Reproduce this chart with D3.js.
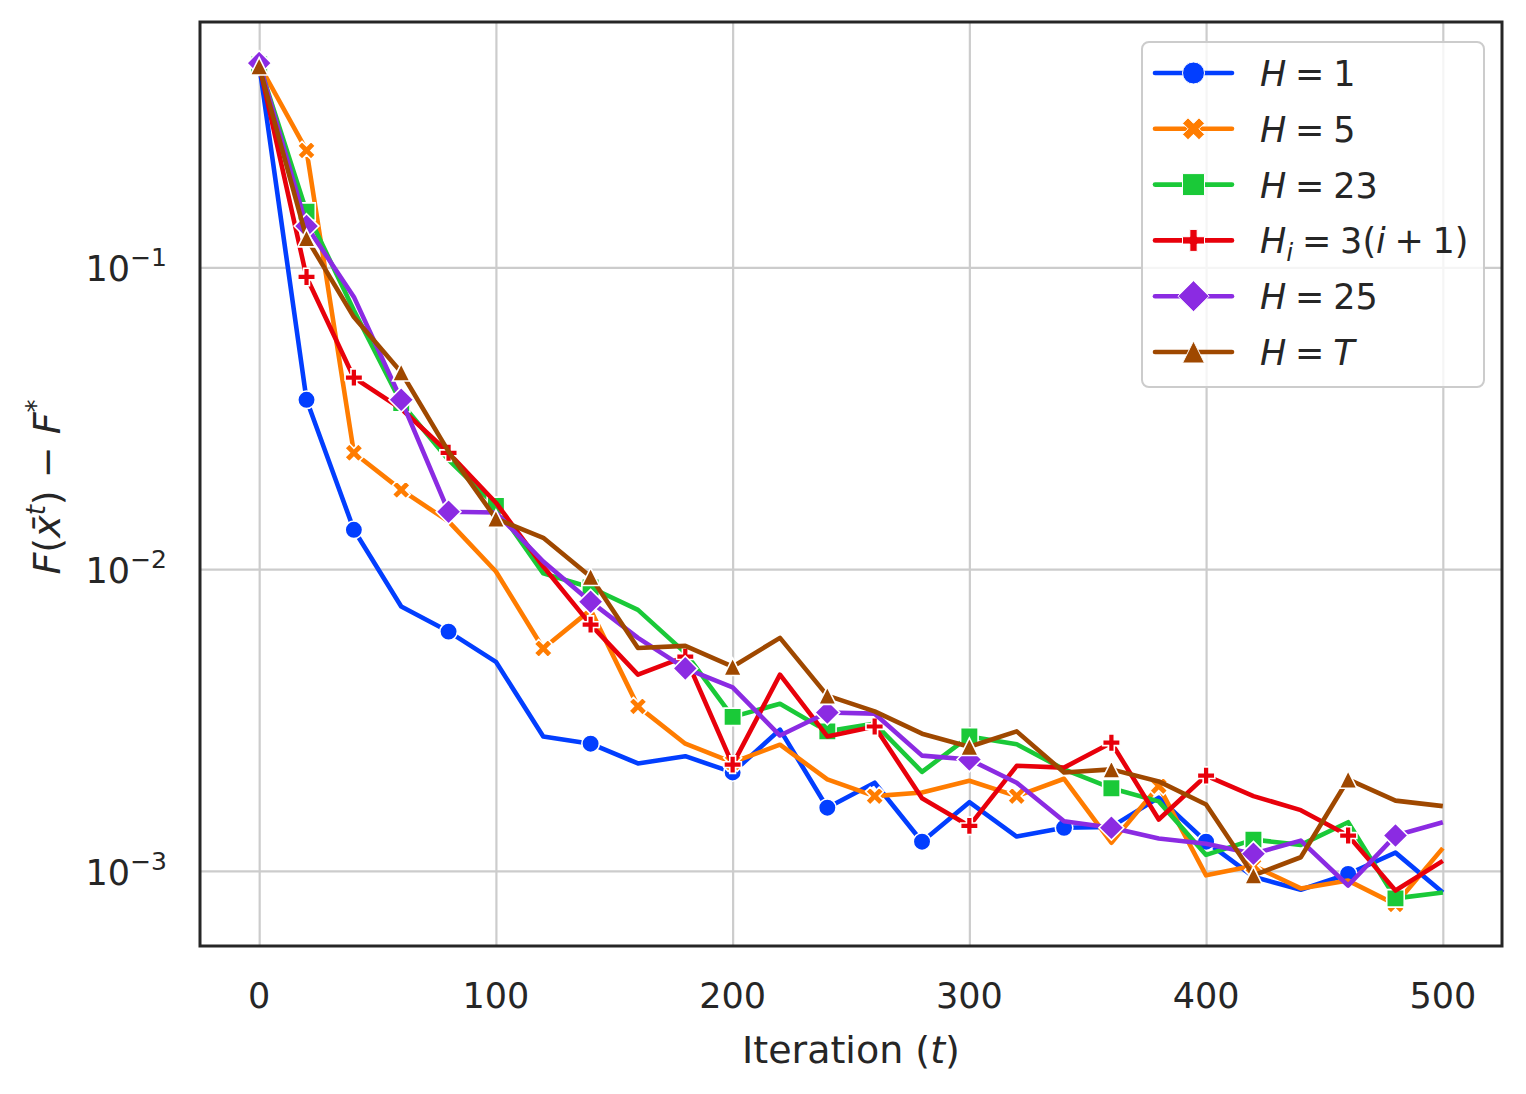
<!DOCTYPE html>
<html>
<head>
<meta charset="utf-8">
<script src="https://cdn.jsdelivr.net/npm/d3@7"></script>
<style>
  body { margin: 0; background: #fff; }
  text { font-family: "DejaVu Sans", sans-serif; fill: #262626; }
</style>
</head>
<body>
<svg id="chart" width="1526" height="1094"></svg>
<script>
// iterations (t)
var iterations = [0, 20, 40, 60, 80, 100, 120, 140, 160, 180, 200, 220, 240,
                  260, 280, 300, 320, 340, 360, 380, 400, 420, 440, 460, 480, 500];

// F(x̄^t) - F* per setting
var h1 = [0.47, 0.0364, 0.0135, 0.00752, 0.00621, 0.00493, 0.00279, 0.00264, 0.00227, 0.00240,
          0.00212, 0.00294, 0.00162, 0.00196, 0.00125, 0.00169, 0.00130, 0.00139, 0.00140,
          0.00175, 0.00125, 0.000957, 0.000866, 0.000977, 0.00115, 0.000848];
var h5 = [0.47, 0.244, 0.0243, 0.0183, 0.0144, 0.00982, 0.00546, 0.00733, 0.00351, 0.00264,
          0.00229, 0.00262, 0.00201, 0.00177, 0.00182, 0.00199, 0.00177, 0.00202, 0.00124,
          0.00191, 0.000967, 0.00104, 0.000875, 0.000929, 0.000775, 0.00119];
var h23 = [0.47, 0.153, 0.0721, 0.0355, 0.0230, 0.0162, 0.00968, 0.00869, 0.00733, 0.00528,
           0.00324, 0.00358, 0.00290, 0.00308, 0.00213, 0.00279, 0.00263, 0.00217, 0.00188,
           0.00170, 0.00113, 0.00127, 0.00122, 0.00145, 0.000811, 0.000848];
var hInc = [0.47, 0.0929, 0.0431, 0.034, 0.0243, 0.0166, 0.0102, 0.00655, 0.00447, 0.00513,
            0.00225, 0.00447, 0.00279, 0.00301, 0.00174, 0.00141, 0.00223, 0.00220, 0.00266,
            0.00148, 0.00207, 0.00177, 0.00159, 0.00131, 0.000861, 0.00108];
var h25 = [0.475, 0.137, 0.0798, 0.0364, 0.0155, 0.0154, 0.0106, 0.00780, 0.00592, 0.00469,
           0.00406, 0.00281, 0.00335, 0.00332, 0.00241, 0.00234, 0.00196, 0.00146, 0.00139,
           0.00128, 0.00123, 0.00114, 0.00126, 0.000895, 0.00131, 0.00145];
var hT = [0.464, 0.125, 0.0684, 0.0449, 0.0245, 0.0147, 0.0127, 0.00944, 0.00548, 0.00557,
          0.00475, 0.00592, 0.00381, 0.00338, 0.00285, 0.00258, 0.00290, 0.00212, 0.00217,
          0.00198, 0.00166, 0.000967, 0.00111, 0.00201, 0.00171, 0.00164];

var seriesValues = [h1, h5, h23, hInc, h25, hT];
var seriesColors = ["#023eff", "#ff7c00", "#1ac938", "#e8000b", "#8b2be2", "#9f4800"];
var seriesMarkers = ["circle", "xfilled", "square", "plus", "diamond", "triangle"];

var xTicks = [0, 100, 200, 300, 400, 500];
var yTicks = [1e-1, 1e-2, 1e-3];
var yTickExp = ["\u22121", "\u22122", "\u22123"];

var svg = d3.select("svg#chart");
var plotLeft = 200, plotRight = 1502, plotTop = 22, plotBottom = 946;

var x = d3.scaleLinear().domain([-25, 525]).range([plotLeft, plotRight]);
var y = d3.scaleLog().domain([0.000564, 0.65]).range([plotBottom, plotTop]);

// grid
var xAxis = d3.axisBottom(x).tickValues(xTicks).tickSize(-(plotBottom - plotTop)).tickFormat("");
var yAxis = d3.axisLeft(y).tickValues(yTicks).tickSize(-(plotRight - plotLeft)).tickFormat("");
svg.append("g").attr("transform", "translate(0," + plotBottom + ")").call(xAxis)
   .call(function(g) { g.select(".domain").remove(); })
   .selectAll("line").attr("stroke", "#cccccc").attr("stroke-width", 2.2);
svg.append("g").attr("transform", "translate(" + plotLeft + ",0)").call(yAxis)
   .call(function(g) { g.select(".domain").remove(); })
   .selectAll("line").attr("stroke", "#cccccc").attr("stroke-width", 2.2);

// tick labels
svg.selectAll("text.xtick").data(xTicks).enter().append("text")
   .attr("class", "xtick")
   .attr("x", function(d) { return x(d); })
   .attr("y", 1008)
   .attr("text-anchor", "middle")
   .style("font-size", "35px")
   .text(function(d) { return d; });

yTicks.forEach(function(v, i) {
  var t = svg.append("text")
     .attr("x", 167)
     .attr("y", y(v) + 14)
     .attr("text-anchor", "end")
     .style("font-size", "35px");
  t.append("tspan").text("10");
  t.append("tspan").attr("dy", -15).style("font-size", "25px").text(yTickExp[i]);
});

// axis labels
var xl = svg.append("text")
   .attr("x", (plotLeft + plotRight) / 2)
   .attr("y", 1063)
   .attr("text-anchor", "middle")
   .style("font-size", "38px");
xl.append("tspan").text("Iteration (");
xl.append("tspan").style("font-style", "italic").text("t");
xl.append("tspan").text(")");

var yl = svg.append("text")
   .attr("transform", "translate(60," + ((plotTop + plotBottom) / 2 + 3) + ") rotate(-90)")
   .attr("text-anchor", "middle")
   .style("font-size", "38px");
yl.append("tspan").style("font-style", "italic").text("F");
yl.append("tspan").text("(");
yl.append("tspan").style("font-style", "italic").text("x\u0304");
yl.append("tspan").attr("dy", -15).style("font-style", "italic").style("font-size", "26px").text("t");
yl.append("tspan").attr("dy", 15).text(") \u2212 ");
yl.append("tspan").style("font-style", "italic").text("F");
yl.append("tspan").attr("dy", -15).style("font-size", "26px").text("*");

// marker shapes, matplotlib-like
function markerPath(kind, s) {
  var h = s / 2;
  function poly(pts, k) {
    return "M" + pts.map(function(p) { return [p[0] * k, p[1] * k].join(","); }).join("L") + "Z";
  }
  if (kind === "circle") {
    return "M" + h + ",0A" + h + "," + h + " 0 1,1 " + (-h) + ",0A" + h + "," + h + " 0 1,1 " + h + ",0Z";
  }
  if (kind === "square") return poly([[-h, -h], [h, -h], [h, h], [-h, h]], 1);
  if (kind === "diamond") { var d = h * Math.SQRT2; return poly([[0, -d], [d, 0], [0, d], [-d, 0]], 1); }
  if (kind === "triangle") return poly([[0, -h], [h, h], [-h, h]], 1);
  if (kind === "plus") {
    return poly([[-1, -3], [1, -3], [1, -1], [3, -1], [3, 1], [1, 1], [1, 3], [-1, 3],
                 [-1, 1], [-3, 1], [-3, -1], [-1, -1]], s / 6);
  }
  // filled x
  return poly([[-1, -2], [0, -1], [1, -2], [2, -1], [1, 0], [2, 1], [1, 2], [0, 1],
               [-1, 2], [-2, 1], [-1, 0], [-2, -1]], s / 4);
}

// markevery = 0.1 (spaced by display distance along the line)
function markIndices(pts) {
  var cum = [0];
  for (var i = 1; i < pts.length; i++) {
    cum.push(cum[i - 1] + Math.hypot(pts[i][0] - pts[i - 1][0], pts[i][1] - pts[i - 1][1]));
  }
  var step = 0.1 * Math.hypot(plotRight - plotLeft, plotBottom - plotTop);
  var inds = [];
  for (var t = 0; t < cum[cum.length - 1]; t += step) {
    var best = 0;
    cum.forEach(function(c, j) { if (Math.abs(c - t) < Math.abs(cum[best] - t)) best = j; });
    if (inds.indexOf(best) < 0) inds.push(best);
  }
  return inds;
}

var plot = svg.append("g");
var line = d3.line().x(function(d) { return d[0]; }).y(function(d) { return d[1]; });

seriesValues.forEach(function(vals, k) {
  var pts = vals.map(function(v, i) { return [x(iterations[i]), y(v)]; });
  var g = plot.append("g");
  g.append("path")
   .attr("d", line(pts))
   .attr("fill", "none")
   .attr("stroke", seriesColors[k])
   .attr("stroke-width", 4.6)
   .attr("stroke-linejoin", "round");
  markIndices(pts).forEach(function(i) {
    g.append("path")
     .attr("d", markerPath(seriesMarkers[k], seriesMarkers[k] === "xfilled" ? 18 : 17.5))
     .attr("transform", "translate(" + pts[i][0] + "," + pts[i][1] + ")")
     .attr("fill", seriesColors[k])
     .attr("stroke", "#fff")
     .attr("stroke-width", 1.6);
  });
});

// frame
svg.append("rect")
   .attr("x", plotLeft).attr("y", plotTop)
   .attr("width", plotRight - plotLeft).attr("height", plotBottom - plotTop)
   .attr("fill", "none").attr("stroke", "#262626").attr("stroke-width", 3);

// legend
var legend = svg.append("g");
legend.append("rect")
   .attr("x", 1142).attr("y", 42).attr("width", 342).attr("height", 345)
   .attr("rx", 7)
   .attr("fill", "#fff").attr("fill-opacity", 0.8)
   .attr("stroke", "#cccccc").attr("stroke-width", 2);

var sp = "\u2005";
var legendParts = [
  [["H", "i"], [sp + "=" + sp + "1", ""]],
  [["H", "i"], [sp + "=" + sp + "5", ""]],
  [["H", "i"], [sp + "=" + sp + "23", ""]],
  [["H", "i"], ["i", "sub"], [sp + "=" + sp + "3(", ""], ["i", "i"], [sp + "+" + sp + "1)", ""]],
  [["H", "i"], [sp + "=" + sp + "25", ""]],
  [["H", "i"], [sp + "=" + sp, ""], ["T", "i"]]
];

legendParts.forEach(function(parts, k) {
  var cy = 73 + k * 55.8;
  legend.append("line")
     .attr("x1", 1155).attr("x2", 1232).attr("y1", cy).attr("y2", cy)
     .attr("stroke", seriesColors[k]).attr("stroke-width", 4.6).attr("stroke-linecap", "round");
  legend.append("path")
     .attr("d", markerPath(seriesMarkers[k], 22))
     .attr("transform", "translate(1193.5," + cy + ")")
     .attr("fill", seriesColors[k])
     .attr("stroke", "#fff").attr("stroke-width", 1);
  var t = legend.append("text")
     .attr("x", 1260).attr("y", cy + 13)
     .style("font-size", "35px");
  var shifted = false;
  parts.forEach(function(p) {
    var ts = t.append("tspan").text(p[0]);
    if (p[1] === "i") ts.style("font-style", "italic");
    if (p[1] === "sub") {
      ts.style("font-style", "italic").style("font-size", "25px").attr("dy", 8);
      shifted = true;
    } else if (shifted) {
      ts.attr("dy", -8);
      shifted = false;
    }
  });
});
</script>
</body>
</html>
